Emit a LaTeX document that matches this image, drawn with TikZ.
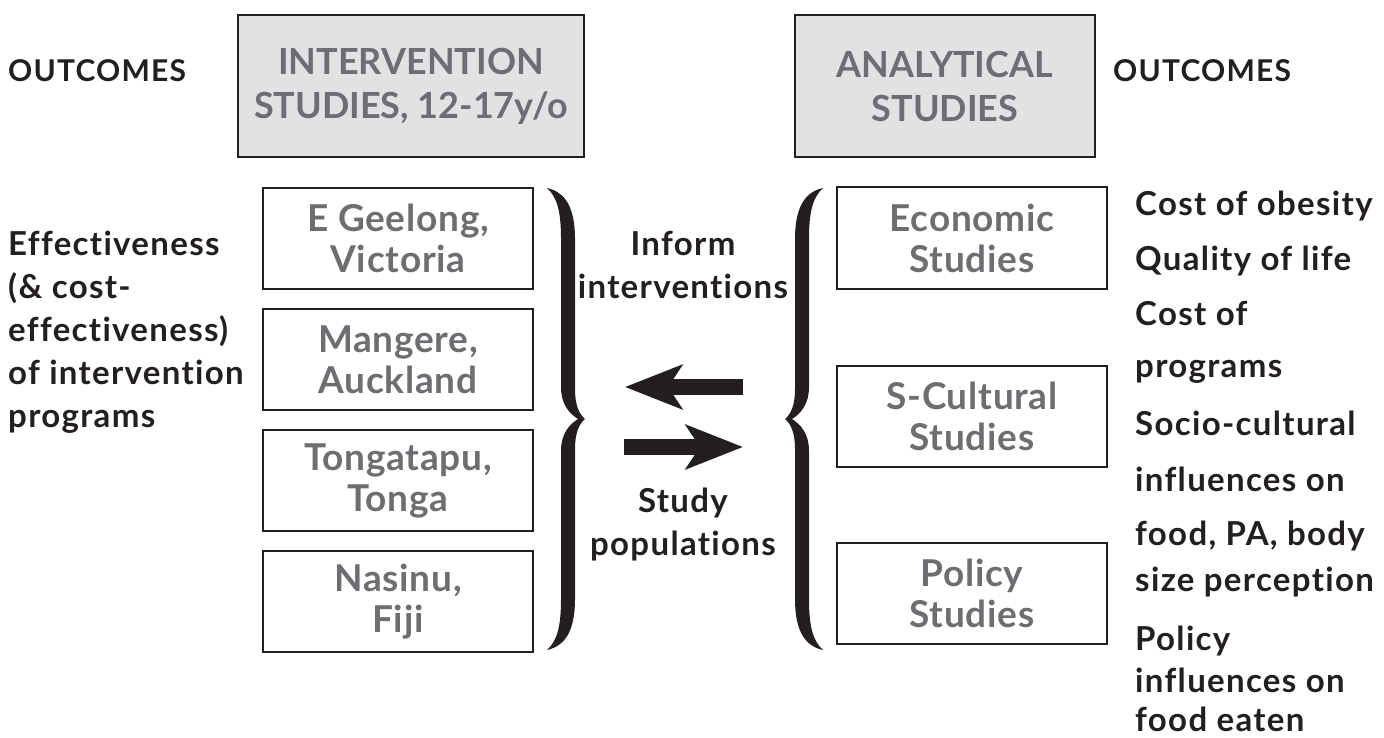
\documentclass[tikz,border=0pt]{standalone}
\usepackage{fontspec}
\setmainfont{Lato}[Ligatures=NoCommon]
\newfontfamily\inkfont{Lato}[LetterSpace=4.0, Ligatures=NoCommon]
\newfontfamily\greyfont{Lato}[LetterSpace=2.0, Ligatures=NoCommon]
\usetikzlibrary{arrows.meta,positioning}
\definecolor{InkBlack}{HTML}{231F20}
\definecolor{HeadFill}{HTML}{E1E2E4}
\definecolor{BoxGrey}{HTML}{6D6E71}
\newcommand\hdfont{\bfseries\fontsize{36}{44}\selectfont}
\newcommand\sitefont{\greyfont\bfseries\fontsize{37}{41}\selectfont}
\newcommand\outfont{\inkfont\bfseries\fontsize{30}{34}\selectfont}
\newcommand\notefont{\inkfont\bfseries\fontsize{33}{43}\selectfont}
\tikzset{
  headbox/.style={draw=InkBlack, line width=2.5pt, fill=HeadFill, text=BoxGrey, align=center, minimum height=142pt, font=\hdfont},
  sitebox/.style={draw=InkBlack, line width=2pt, fill=white, text=BoxGrey, align=center, minimum width=270pt, minimum height=101pt, font=\sitefont},
  outlabel/.style={text=InkBlack, inner sep=0pt, font=\outfont},
  notetext/.style={text=InkBlack, inner sep=0pt, align=left, font=\notefont},
  sidetext/.style={text=InkBlack, inner sep=0pt, anchor=base west, font=\notefont},
  midtext/.style={text=InkBlack, inner sep=0pt, align=center, font=\notefont},
  flowarrow/.style={line width=16pt, draw=InkBlack, -{Stealth[length=57pt, width=44pt, inset=14pt]}},
  curlybrace/.pic={
    \fill[InkBlack] (-38,231) .. controls (-20,227) and (-10,212) .. (-10,180)
      -- (-10,30) .. controls (-10,14) and (-6,5) .. (0,0)
      .. controls (-6,-5) and (-10,-14) .. (-10,-30)
      -- (-10,-180) .. controls (-10,-212) and (-20,-227) .. (-38,-231)
      .. controls (-28,-222) and (-24,-208) .. (-24,-180)
      -- (-24,-32) .. controls (-24,-14) and (-15,-5) .. (-7,0)
      .. controls (-15,5) and (-24,14) .. (-24,32)
      -- (-24,180) .. controls (-24,208) and (-28,222) .. (-38,231) -- cycle;
  }
}
\begin{document}
\begin{tikzpicture}[x=1pt, y=1pt]
  \useasboundingbox (0,0) rectangle (1384,-738);
  % top row
  \node[outlabel, anchor=base west] (outleft) at (8,-82) {OUTCOMES};
  \node[headbox, minimum width=346pt] (interv) at (411,-86) {INTERVENTION\\STUDIES, 12-17y/o};
  \node[headbox, minimum width=300pt] (analyt) at (945,-86) {ANALYTICAL\\STUDIES};
  \node[outlabel, anchor=base west] (outright) at (1113,-82) {OUTCOMES};

  % intervention sites
  \node[sitebox] (geelong) at (398,-238.5) {E Geelong,\\Victoria};
  \node[sitebox, below=18pt of geelong] (mangere) {Mangere,\\Auckland};
  \node[sitebox, below=18pt of mangere] (tonga) {Tongatapu,\\Tonga};
  \node[sitebox, below=18pt of tonga] (fiji) {Nasinu,\\Fiji};

  % analytical studies
  \node[sitebox] (econ) at (972,-238) {Economic\\Studies};
  \node[sitebox] (cultural) at (972,-416.5) {S-Cultural\\Studies};
  \node[sitebox] (policy) at (972,-593.5) {Policy\\Studies};

  % braces and arrows
  \pic (bleft) at (585,-419) {curlybrace};
  \pic[xscale=-1] (bright) at (785,-419) {curlybrace};
  \coordinate (informtail) at (743,-387);
  \coordinate (informhead) at (625,-387);
  \coordinate (studytail) at (624,-447);
  \coordinate (studyhead) at (743,-447);
  \draw[flowarrow] (informtail) -- (informhead);
  \draw[flowarrow] (studytail) -- (studyhead);

  \node[midtext, anchor=base] (inform) at (683,-298) {Inform\\interventions};
  \node[midtext, anchor=base] (study) at (683,-555) {Study\\populations};

  % outcome notes
  \node[notetext, anchor=base west] (effect) at (8,-427) {Effectiveness\\(\& cost-\\effectiveness)\\of intervention\\programs};
  \node[sidetext] (costob) at (1135,-215) {Cost of obesity};
  \node[sidetext] (quality) at (1135,-270) {Quality of life};
  \node[sidetext] (costof) at (1135,-325) {Cost of};
  \node[sidetext] (programs) at (1135,-377) {programs};
  \node[sidetext] (socio) at (1135,-435) {Socio-cultural};
  \node[sidetext] (inflA) at (1135,-491) {influences on};
  \node[sidetext] (foodpa) at (1135,-545) {food, PA, body};
  \node[sidetext] (sizeper) at (1135,-591) {size perception};
  \node[sidetext] (policyl) at (1135,-650) {Policy};
  \node[sidetext] (inflB) at (1135,-692) {influences on};
  \node[sidetext] (eaten) at (1135,-731) {food eaten};
\end{tikzpicture}
\end{document}
